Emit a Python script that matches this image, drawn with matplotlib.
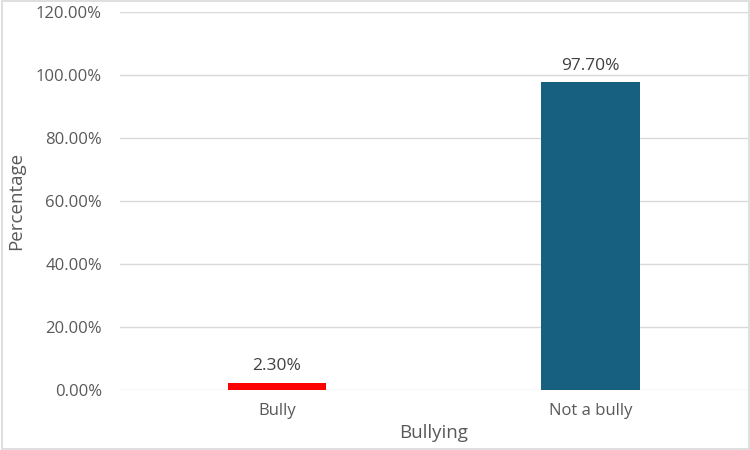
import matplotlib.pyplot as plt
from matplotlib.ticker import PercentFormatter

# data
categories = ['Bully', 'Not a bully']
values = [2.30, 97.70]
bar_colors = ['#ff0000', '#17607f']
y_ticks = [0, 20, 40, 60, 80, 100, 120]

plt.rcParams['font.family'] = ['Open Sans', 'DejaVu Sans']

fig = plt.figure(figsize=(7.5, 4.5), dpi=100)
ax = fig.add_axes([0.16, 0.1333, 0.837, 0.84])

x = range(len(categories))
bars = ax.bar(x, values, width=0.315, color=bar_colors, zorder=3)

# value labels above each bar
for b, v in zip(bars, values):
    ax.annotate(f'{v:.2f}%', (b.get_x() + b.get_width() / 2, b.get_height()),
                xytext=(0, 6), textcoords='offset points',
                ha='center', va='bottom', fontsize=12.5, color='#404040')

ax.set_xlim(-0.5, len(categories) - 0.5)
ax.set_ylim(0, 120)
ax.set_yticks(y_ticks)
ax.yaxis.set_major_formatter(PercentFormatter(decimals=2))
ax.set_xticks(list(x))
ax.set_xticklabels(categories)
ax.tick_params(axis='both', length=0, labelsize=12, labelcolor='#595959')
ax.tick_params(axis='y', pad=13)
ax.tick_params(axis='x', pad=9)

ax.grid(axis='y', color='#d9d9d9', linewidth=1, zorder=0)
for s in ax.spines.values():
    s.set_visible(False)

ax.set_ylabel('Percentage', fontsize=13.5, color='#595959', labelpad=8)
ax.set_xlabel('Bullying', fontsize=13.5, color='#595959', labelpad=4)

# light frame around the whole chart
fig.patches.append(plt.Rectangle((0.002, 0.002), 0.996, 0.996, transform=fig.transFigure,
                                 fill=False, edgecolor='#d9d9d9', linewidth=1.2))

fig.savefig('out.png', dpi=100)
